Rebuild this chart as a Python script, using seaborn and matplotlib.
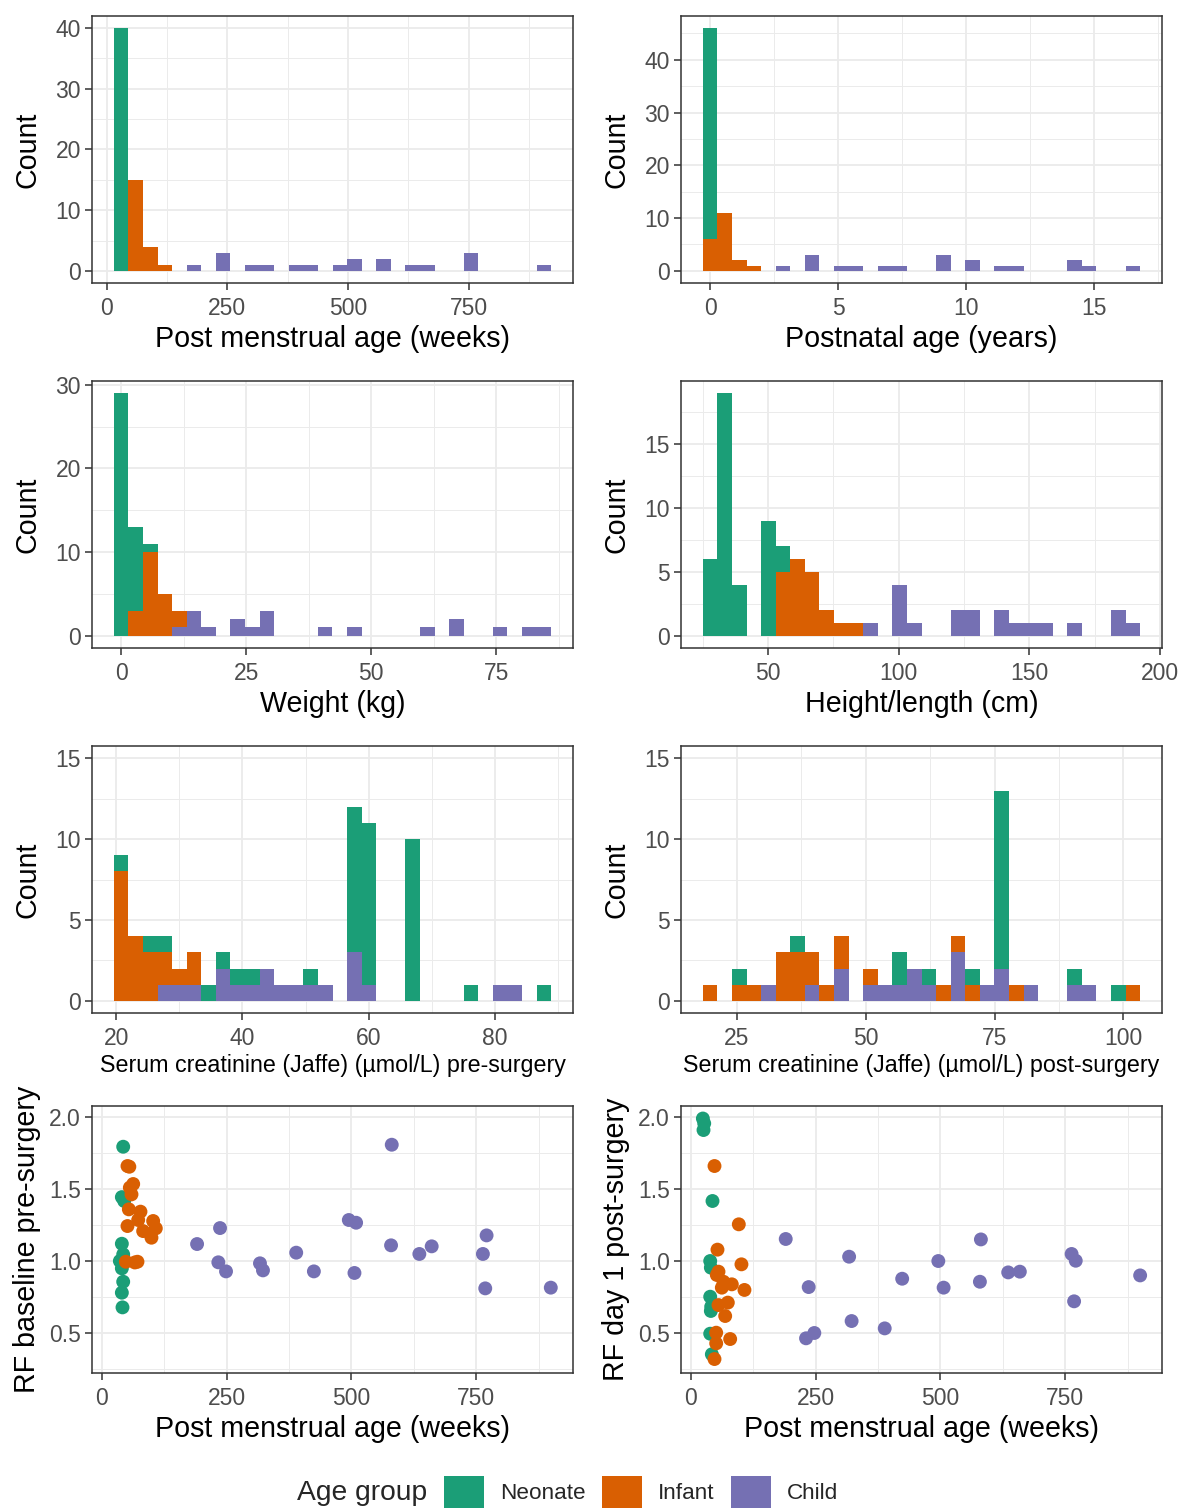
import numpy as np
import pandas as pd
import matplotlib
matplotlib.use("Agg")
import matplotlib.pyplot as plt
import seaborn as sns
from matplotlib.ticker import MultipleLocator
from matplotlib.patches import Patch

sns.set_theme(style="white")
plt.rcParams["font.family"] = ["Liberation Sans", "DejaVu Sans"]

# ---------------------------------------------------------------- data
groups = ["Neonate", "Infant", "Child"]
group_colors = ["#1B9E77", "#D95F02", "#7570B3"]

# Histograms: 30 bins each (first edge, bin width), counts per age group
pma_bins = (15.1, 30.2)
pma_neonate = [40, 0, 0, 0, 0, 0, 0, 0, 0, 0, 0, 0, 0, 0, 0, 0, 0, 0, 0, 0, 0, 0, 0, 0, 0, 0, 0, 0, 0, 0]
pma_infant = [0, 15, 4, 1, 0, 0, 0, 0, 0, 0, 0, 0, 0, 0, 0, 0, 0, 0, 0, 0, 0, 0, 0, 0, 0, 0, 0, 0, 0, 0]
pma_child = [0, 0, 0, 0, 0, 1, 0, 3, 0, 1, 1, 0, 1, 1, 0, 1, 2, 0, 2, 0, 1, 1, 0, 0, 3, 0, 0, 0, 0, 1]

age_bins = (-0.2845, 0.569)
age_neonate = [40, 0, 0, 0, 0, 0, 0, 0, 0, 0, 0, 0, 0, 0, 0, 0, 0, 0, 0, 0, 0, 0, 0, 0, 0, 0, 0, 0, 0, 0]
age_infant = [6, 11, 2, 1, 0, 0, 0, 0, 0, 0, 0, 0, 0, 0, 0, 0, 0, 0, 0, 0, 0, 0, 0, 0, 0, 0, 0, 0, 0, 0]
age_child = [0, 0, 0, 0, 0, 1, 0, 3, 0, 1, 1, 0, 1, 1, 0, 0, 3, 0, 2, 0, 1, 1, 0, 0, 0, 2, 1, 0, 0, 1]

weight_bins = (-1.457, 2.914)
weight_neonate = [29, 10, 1, 0, 0, 0, 0, 0, 0, 0, 0, 0, 0, 0, 0, 0, 0, 0, 0, 0, 0, 0, 0, 0, 0, 0, 0, 0, 0, 0]
weight_infant = [0, 3, 10, 5, 2, 0, 0, 0, 0, 0, 0, 0, 0, 0, 0, 0, 0, 0, 0, 0, 0, 0, 0, 0, 0, 0, 0, 0, 0, 0]
weight_child = [0, 0, 0, 0, 1, 3, 1, 0, 2, 1, 3, 0, 0, 0, 1, 0, 1, 0, 0, 0, 0, 1, 0, 2, 0, 0, 1, 0, 1, 1]

height_bins = (25.1, 5.577)
height_neonate = [6, 19, 4, 0, 9, 2, 0, 0, 0, 0, 0, 0, 0, 0, 0, 0, 0, 0, 0, 0, 0, 0, 0, 0, 0, 0, 0, 0, 0, 0]
height_infant = [0, 0, 0, 0, 0, 5, 6, 5, 2, 1, 1, 0, 0, 0, 0, 0, 0, 0, 0, 0, 0, 0, 0, 0, 0, 0, 0, 0, 0, 0]
height_child = [0, 0, 0, 0, 0, 0, 0, 0, 0, 0, 0, 1, 0, 4, 1, 0, 0, 2, 2, 0, 2, 1, 1, 1, 0, 1, 0, 0, 2, 1]

cpre_bins = (19.626, 2.309)
cpre_neonate = [1, 0, 1, 1, 0, 0, 1, 1, 1, 1, 0, 0, 0, 1, 0, 0, 9, 10, 0, 0, 10, 0, 0, 0, 1, 0, 0, 0, 0, 1]
cpre_infant = [8, 4, 3, 2, 1, 2, 0, 0, 0, 0, 0, 0, 0, 0, 0, 0, 0, 0, 0, 0, 0, 0, 0, 0, 0, 0, 0, 0, 0, 0]
cpre_child = [0, 0, 0, 1, 1, 1, 0, 2, 1, 1, 2, 1, 1, 1, 1, 0, 3, 1, 0, 0, 0, 0, 0, 0, 0, 0, 1, 1, 0, 0]

cpost_bins = (18.388, 2.829)
cpost_neonate = [0, 0, 1, 0, 0, 0, 1, 0, 0, 0, 0, 0, 0, 2, 0, 1, 0, 0, 1, 0, 11, 0, 0, 0, 0, 1, 0, 0, 1, 0]
cpost_infant = [1, 0, 1, 1, 0, 3, 3, 2, 1, 2, 0, 1, 0, 0, 0, 0, 1, 1, 1, 0, 0, 1, 0, 0, 0, 0, 0, 0, 0, 1]
cpost_child = [0, 0, 0, 0, 1, 0, 0, 1, 0, 2, 0, 1, 1, 1, 2, 1, 0, 3, 0, 1, 2, 0, 1, 0, 0, 1, 1, 0, 0, 0]

# Scatter: post menstrual age (weeks) vs RF baseline pre-surgery
pre_neo_pma = [42.7, 40, 44.7, 40, 42.7, 36, 40, 42.7, 40, 41.3]
pre_neo_rf = [1.794, 1.444, 1.417, 1.12, 1.046, 1.0, 0.949, 0.856, 0.78, 0.678]
pre_inf_pma = [51.3, 55, 62.7, 56, 59.3, 54, 77.3, 72.7, 102.7, 51.3, 82.7, 108, 99.3, 48, 71.3, 66]
pre_inf_rf = [1.66, 1.655, 1.535, 1.51, 1.463, 1.359, 1.343, 1.285, 1.278, 1.243, 1.208, 1.227,
              1.162, 0.995, 0.995, 0.99]
pre_chi_pma = [580.7, 494.7, 509.3, 236.7, 190.7, 579.3, 660.7, 770.7, 389.3, 636, 763.3, 233.3,
               248.7, 316.7, 322.7, 424.7, 506, 768, 899.3]
pre_chi_rf = [1.808, 1.285, 1.266, 1.229, 1.118, 1.109, 1.102, 1.178, 1.058, 1.049, 1.049, 0.991,
              0.928, 0.984, 0.935, 0.928, 0.917, 0.81, 0.815]

# Scatter: post menstrual age (weeks) vs RF day 1 post-surgery
post_neo_pma = [24, 26.7, 25.3, 43.3, 38.7, 40, 38.7, 40.7, 40, 38.7, 42]
post_neo_rf = [1.99, 1.956, 1.91, 1.417, 1.0, 0.954, 0.752, 0.683, 0.653, 0.495, 0.352]
post_inf_pma = [47.3, 96, 53.3, 101.3, 55.3, 52, 65.3, 82, 62, 107.3, 74, 55.3, 68.7, 50.7, 78.7,
                50.7, 47.3]
post_inf_rf = [1.66, 1.255, 1.079, 0.977, 0.926, 0.903, 0.856, 0.838, 0.815, 0.799, 0.711, 0.694,
               0.618, 0.502, 0.458, 0.428, 0.319]
post_chi_pma = [190, 581, 317, 495.7, 762.7, 771, 635.7, 659, 900, 423.3, 579, 236, 506.3, 767.7,
                322, 388.3, 247.3, 230.7]
post_chi_rf = [1.153, 1.15, 1.03, 1.0, 1.049, 1.002, 0.921, 0.926, 0.90, 0.877, 0.856, 0.819, 0.815,
               0.72, 0.583, 0.532, 0.5, 0.463]

# ---------------------------------------------------------------- layout
W, H = 1183, 1510
fig = plt.figure(figsize=(W / 100, H / 100), dpi=100)

col_x = [92, 681]
row_top = [16, 381, 746, 1106]
pw, ph = 481, 267


def make_ax(r, c):
    return fig.add_axes([col_x[c] / W, 1 - (row_top[r] + ph) / H, pw / W, ph / H])


TICK_COLOR = "#4D4D4D"
LINE_COLOR = "#333333"
GRID_COLOR = "#EBEBEB"


def style_axes(ax, xmajor, ymajor, xlabel, ylabel, c, xlabel_size=20.6, xlabel_y=-0.208):
    ax.xaxis.set_major_locator(MultipleLocator(xmajor))
    ax.xaxis.set_minor_locator(MultipleLocator(xmajor / 2))
    ax.yaxis.set_major_locator(MultipleLocator(ymajor))
    ax.yaxis.set_minor_locator(MultipleLocator(ymajor / 2))
    ax.grid(True, which="major", color=GRID_COLOR, lw=1.3)
    ax.grid(True, which="minor", color=GRID_COLOR, lw=0.7)
    ax.set_axisbelow(True)
    for sp in ax.spines.values():
        sp.set_color(LINE_COLOR)
        sp.set_linewidth(1.1)
        sp.set_visible(True)
    ax.tick_params(which="major", length=5, width=1.1, color=LINE_COLOR,
                   labelsize=16.5, labelcolor=TICK_COLOR,
                   bottom=True, left=True)
    ax.tick_params(axis="x", which="major", pad=4.8)
    ax.tick_params(axis="y", which="major", pad=3)
    ax.tick_params(which="minor", length=0)
    ax.set_xlabel(xlabel, fontsize=xlabel_size, color="black", va="center")
    ax.set_ylabel(ylabel, fontsize=20.6, color="black", va="center")
    ax.xaxis.set_label_coords(0.5, xlabel_y)
    ylab_x = (27 - 92) / pw if c == 0 else (616 - 681) / pw
    ax.yaxis.set_label_coords(ylab_x, 0.5)


def hist_panel(r, c, bins, counts, xlabel, xmajor, ymajor, ymax=None,
               xlabel_size=20.6, xlabel_y=-0.208):
    ax = make_ax(r, c)
    start, width = bins
    nb = len(counts[0])
    edges = start + width * np.arange(nb + 1)
    centers = (edges[:-1] + edges[1:]) / 2
    rows = []
    for g, cnt in zip(groups, counts):
        for xc, n in zip(centers, cnt):
            if n > 0:
                rows.append((xc, n, g))
    df = pd.DataFrame(rows, columns=["x", "n", "group"])
    sns.histplot(data=df, x="x", weights="n", hue="group", hue_order=groups,
                 palette=group_colors, multiple="stack", bins=[float(e) for e in edges],
                 alpha=1, linewidth=0, legend=False, ax=ax)
    span = edges[-1] - edges[0]
    ax.set_xlim(edges[0] - 0.05 * span, edges[-1] + 0.05 * span)
    top = ymax if ymax is not None else np.sum(counts, axis=0).max()
    ax.set_ylim(-0.05 * top, 1.05 * top)
    style_axes(ax, xmajor, ymajor, xlabel, "Count", c, xlabel_size, xlabel_y)
    return ax


def scatter_panel(r, c, pmas, rfs, ylabel):
    ax = make_ax(r, c)
    xs, ys, gs = [], [], []
    for g, px, py in zip(groups, pmas, rfs):
        xs += list(px)
        ys += list(py)
        gs += [g] * len(px)
    df = pd.DataFrame({"pma": xs, "rf": ys, "group": gs})
    sns.scatterplot(data=df, x="pma", y="rf", hue="group", hue_order=groups,
                    palette=group_colors, s=100, linewidth=0, alpha=1,
                    legend=False, ax=ax)
    ax.set_xlim(-19.8, 943.8)
    ax.set_ylim(0.222, 2.077)
    style_axes(ax, 250, 0.5, "Post menstrual age (weeks)", ylabel, c)
    ax.yaxis.set_major_formatter(matplotlib.ticker.FormatStrFormatter("%.1f"))
    return ax


hist_panel(0, 0, pma_bins, [pma_neonate, pma_infant, pma_child],
           "Post menstrual age (weeks)", 250, 10)
hist_panel(0, 1, age_bins, [age_neonate, age_infant, age_child],
           "Postnatal age (years)", 5, 10)
hist_panel(1, 0, weight_bins, [weight_neonate, weight_infant, weight_child],
           "Weight (kg)", 25, 10)
hist_panel(1, 1, height_bins, [height_neonate, height_infant, height_child],
           "Height/length (cm)", 50, 5)
hist_panel(2, 0, cpre_bins, [cpre_neonate, cpre_infant, cpre_child],
           "Serum creatinine (Jaffe) (\u00b5mol/L) pre-surgery", 20, 5, ymax=15,
           xlabel_size=16.75, xlabel_y=-0.198)
hist_panel(2, 1, cpost_bins, [cpost_neonate, cpost_infant, cpost_child],
           "Serum creatinine (Jaffe) (\u00b5mol/L) post-surgery", 25, 5, ymax=15,
           xlabel_size=16.75, xlabel_y=-0.198)
scatter_panel(3, 0, [pre_neo_pma, pre_inf_pma, pre_chi_pma],
              [pre_neo_rf, pre_inf_rf, pre_chi_rf], "RF baseline pre-surgery")
scatter_panel(3, 1, [post_neo_pma, post_inf_pma, post_chi_pma],
              [post_neo_rf, post_inf_rf, post_chi_rf], "RF day 1 post-surgery")

# ---------------------------------------------------------------- legend
fig.text(297 / W, 1 - 1493 / H, "Age group", fontsize=20.3, va="center", ha="left")
handles = [Patch(facecolor=col, edgecolor="none") for col in group_colors]
fig.legend(handles, groups, ncol=3, loc="center left",
           bbox_to_anchor=(444 / W, 1 - 1492 / H), frameon=False, fontsize=16.2,
           handlelength=1.78, handleheight=1.78, handletextpad=0.7,
           columnspacing=0.74, borderpad=0, borderaxespad=0)

fig.savefig("out.png", dpi=100)
